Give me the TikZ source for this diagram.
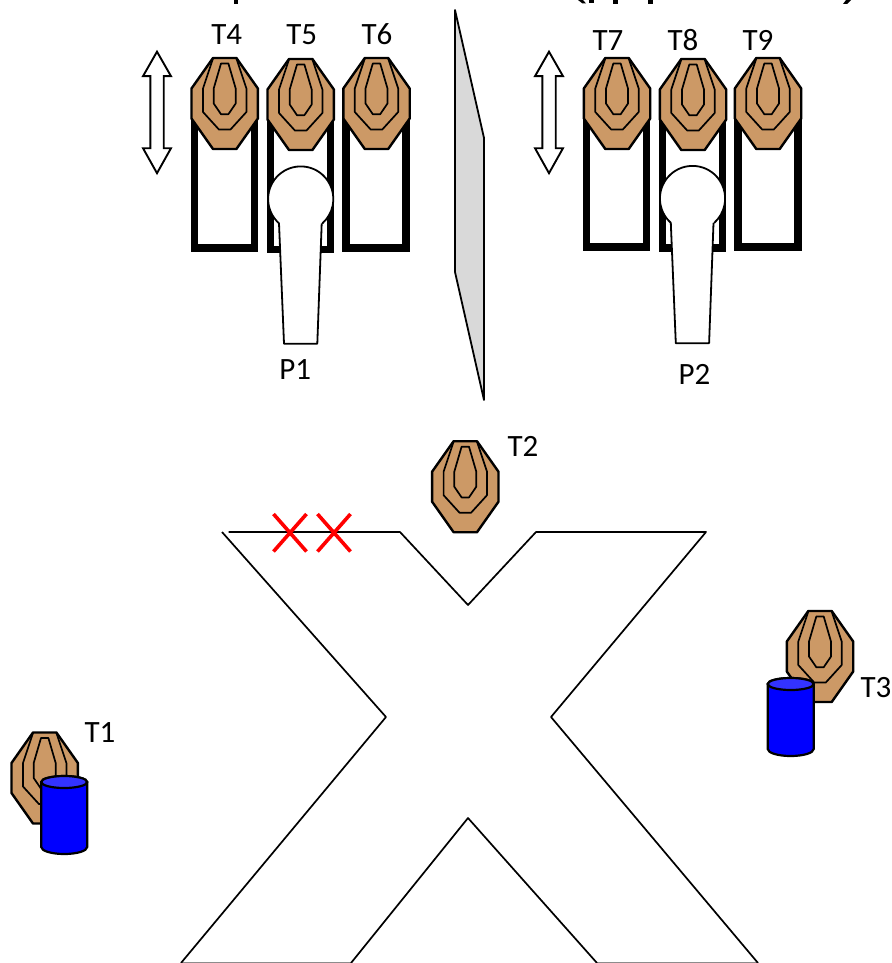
\documentclass[tikz,border=0pt]{standalone}
\usepackage{fontspec}
\setmainfont{Carlito}
\definecolor{targetfill}{HTML}{CC9966}
\definecolor{wallgrey}{HTML}{D9D9D9}
\definecolor{barrelblue}{HTML}{0000FF}
\definecolor{barreltop}{HTML}{3333FF}
\tikzset{
  every picture/.style={x=1pt,y=-1pt},
  lbl/.style={font=\fontsize{31}{31}\selectfont,inner sep=0pt,text height=19.5pt,text depth=0pt,anchor=center},
  plate/.style={draw=black,fill=targetfill,line width=2.4pt,line join=round},
  ring/.style={draw=black,line width=1.7pt,line join=round},
  stand/.style={draw=black,line width=7.5pt,line join=miter},
  shooter/.style={draw=black,fill=white,line width=1.8pt,line join=round},
  updown/.style={draw=black,fill=white,line width=1.9pt,line join=miter},
  course/.style={draw=black,line width=1.7pt,line join=round},
  courseedge/.style={draw=black!45,line width=1.5pt},
  nohit/.style={draw=red,line width=3.6pt},
  barrel/.style={draw=black,fill=barrelblue,line width=2.2pt},
  pics/plate target/.style={code={
    \path[plate] (-11.7,-45.5)--(11.7,-45.5)--(33.2,-15)--(33.2,15)--(11.7,45.5)--(-11.7,45.5)--(-33.2,15)--(-33.2,-15)--cycle;
    \path[ring] (-11.7,-45)--(-21.7,-15)--(-21.7,8.5)--(-5.8,26)--(5.8,26)--(21.7,8.5)--(21.7,-15)--(11.7,-45);
    \path[ring] (-3.7,-40)--(3.7,-40)--(11,-15)--(11,0)--(3.7,10.7)--(-3.7,10.7)--(-11,0)--(-11,-15)--cycle;
  }},
  pics/stand frame/.style={code={
    \path[stand] (-30,-130)--(-30,0)--(30,0)--(30,-130);
  }},
  pics/person/.style={code={
    \path[shooter] (21,24.3)--(16.6,144.7)--(-16.7,144.7)--(-21.7,24.3) arc[start angle=131.8,end angle=408.2,radius=32.6];
  }},
  pics/double arrow/.style={code={
    \path[updown] (0,0)--(14,24.5)--(6.7,24.5)--(6.7,96.5)--(14,96.5)--(0,121.5)--(-14,96.5)--(-6.7,96.5)--(-6.7,24.5)--(-14,24.5)--cycle;
  }},
  pics/drum/.style={code={
    \path[barrel] (-23,0)--(-23,65) arc[start angle=180,end angle=0,x radius=23,y radius=7] -- (23,0) arc[start angle=0,end angle=-180,x radius=23,y radius=6] -- cycle;
    \path[draw=black,fill=barreltop,line width=2.2pt] (0,0) ellipse[x radius=23,y radius=6];
  }},
}
\begin{document}
\begin{tikzpicture}
\useasboundingbox (0,0) rectangle (891,963);
\clip (0,0) rectangle (891,963);

% clipped heading remnants along the upper edge
\fill (234,0) rectangle (237.5,4.2);
\fill (578,0)--(583,0)--(586,3.5)--(582.5,3.5)--cycle;
\fill (589,0) rectangle (593.5,3.5);
\fill (613,0) rectangle (617.5,4);
\fill (648,0) rectangle (652.5,4);
\fill (846,0)--(851,0)--(847,4)--(843,4)--cycle;

% stands behind the upper rows of plates
\pic at (224.5,248) {stand frame};
\pic at (300.4,249.5) {stand frame};
\pic at (376,248) {stand frame};
\pic at (616.5,247) {stand frame};
\pic at (692.5,248) {stand frame};
\pic at (768,247) {stand frame};

% plates
\pic at (224.7,103.5) {plate target};
\pic at (300.7,104.5) {plate target};
\pic at (376.5,103.5) {plate target};
\pic at (617,103.5) {plate target};
\pic at (693,104.5) {plate target};
\pic at (768,103.5) {plate target};
\pic at (465.3,486.7) {plate target};
\pic at (44.7,778) {plate target};
\pic at (820,656.5) {plate target};

% shooters
\pic at (300.7,199) {person};
\pic at (692.5,198.5) {person};

% movement arrows
\pic at (157,51.7) {double arrow};
\pic at (549,51.7) {double arrow};

% centre wall
\path[draw=black,fill=wallgrey,line width=1.8pt,line join=round]
  (455,10)--(484,138)--(484,400)--(455,272)--cycle;

% shooting area outline
\path[courseedge] (181,963)--(351,963) (597,963)--(758,963);
\path[course] (228.5,532)--(400,532)--(468,605)--(536,532)--(706,532)--(551,717)--(758,963);
\path[course] (597,963)--(468,818)--(351,963);
\path[course] (181,963)--(386,717)--(222,532);

% fault marks on the front line
\draw[nohit] (273.5,514)--(306.5,551.5) (306.5,514)--(273.5,551.5);
\draw[nohit] (317.5,514)--(350.5,551.5) (350.5,514)--(317.5,551.5);

% barrels in front of the side plates
\pic at (64.2,782) {drum};
\pic at (790.7,684) {drum};

% labels
\node[lbl] (t1) at (100,733) {T1};
\node[lbl] (t2) at (523,446.5) {T2};
\node[lbl] (t3) at (876,688) {T3};
\node[lbl] (t4) at (226.7,35) {T4};
\node[lbl] (t5) at (301.7,35) {T5};
\node[lbl] (t6) at (377,35) {T6};
\node[lbl] (t7) at (608,41) {T7};
\node[lbl] (t8) at (683,41) {T8};
\node[lbl] (t9) at (758,41) {T9};
\node[lbl] (p1) at (295.3,370) {P1};
\node[lbl] (p2) at (694.5,375) {P2};
\end{tikzpicture}
\end{document}
